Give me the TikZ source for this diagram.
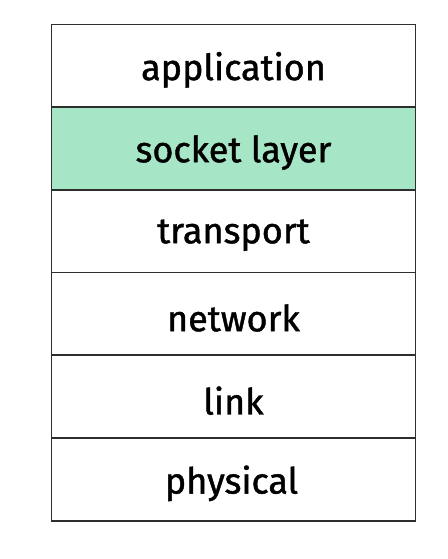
\documentclass[tikz,border=0pt]{standalone}
\usepackage{fontspec}
\setmainfont{Fira Sans}
\newfontfamily\lblfont{Fira Sans}[FakeBold=1.2]
\definecolor{sockgreen}{HTML}{A6E6C6}
\definecolor{edge}{HTML}{2E2E2E}
\tikzset{
  layer/.style={draw=edge, line width=1.7pt, fill=white, minimum width=364pt, minimum height=82.7pt, inner sep=0pt, outer sep=0pt, anchor=north west, text=black},
  lbl/.style={inner sep=0pt, font=\lblfont\fontsize{36}{36}\selectfont, text=black},
}
\begin{document}
\begin{tikzpicture}[x=1pt,y=-1pt]
\useasboundingbox (0,0) rectangle (447,559);
\node[layer] (app) at (51.5,24.5) {};
\node[layer, fill=sockgreen] (sock) at (51.5,107.2) {};
\node[layer] (trans) at (51.5,189.9) {};
\node[layer] (net) at (51.5,272.6) {};
\node[layer] (link) at (51.5,355.3) {};
\node[layer] (phys) at (51.5,438.0) {};
\node[lbl] (tapp) at ([yshift=-4pt]app.center) {application};
\node[lbl] (tsock) at ([yshift=-4pt]sock.center) {socket layer};
\node[lbl] (ttrans) at ([yshift=-4pt]trans.center) {transport};
\node[lbl] (tnet) at ([yshift=-4pt]net.center) {network};
\node[lbl] (tlink) at ([yshift=-4pt]link.center) {link};
\node[lbl] (tphys) at ([yshift=-4pt,xshift=-2pt]phys.center) {physical};
\end{tikzpicture}
\end{document}
